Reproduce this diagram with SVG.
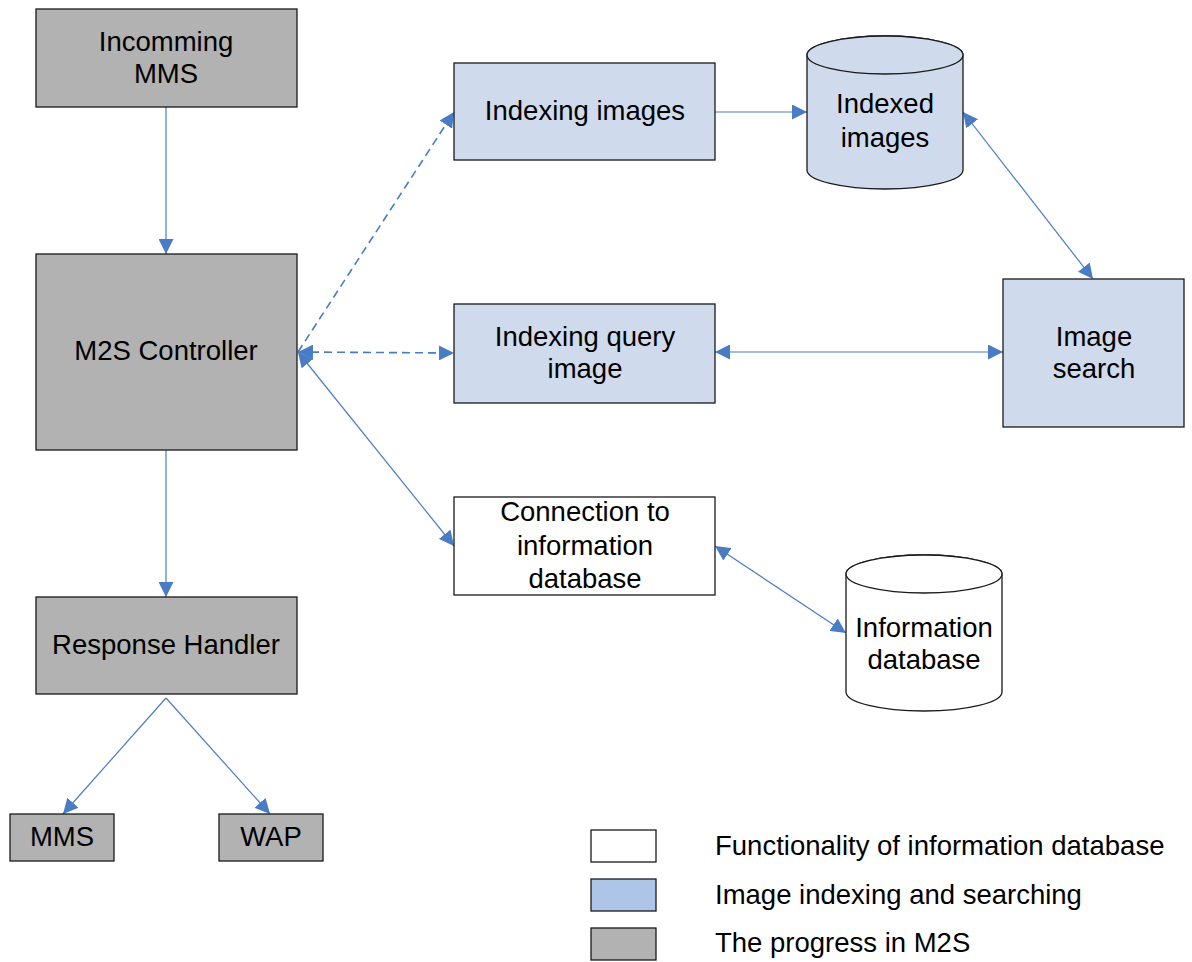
<svg xmlns="http://www.w3.org/2000/svg" width="1192" height="962" viewBox="0 0 1192 962">
<defs>
<style>
.g{fill:#b2b2b2;stroke:#1a1a1a;stroke-width:1.3}
.b{fill:#cfdbed;stroke:#1a1a1a;stroke-width:1.3}
.w{fill:#ffffff;stroke:#1a1a1a;stroke-width:1.3}
.lb{fill:#adc5e6;stroke:#1a1a1a;stroke-width:1.3}
text{font-family:"Liberation Sans",Arial,sans-serif;font-size:27.5px;fill:#000;text-anchor:middle}
.lt{text-anchor:start}
.c{stroke:#4a7cc6;stroke-width:1.2;fill:none}
.d{stroke-dasharray:8,5;stroke-width:1.6}
</style>
<marker id="a" viewBox="0 0 10 10" refX="10" refY="5" markerWidth="15" markerHeight="15" markerUnits="userSpaceOnUse" orient="auto-start-reverse">
<path d="M0,0 L10,5 L0,10 z" fill="#4a7cc6"/>
</marker>
</defs>
<g id="connectors">
<line class="c" x1="166" y1="107" x2="166" y2="254" marker-end="url(#a)"/>
<line class="c" x1="166" y1="450" x2="166" y2="597" marker-end="url(#a)"/>
<line class="c" x1="166" y1="698" x2="63" y2="814" marker-end="url(#a)"/>
<line class="c" x1="166" y1="698" x2="270" y2="814" marker-end="url(#a)"/>
<line class="c d" x1="298" y1="352" x2="454" y2="112" marker-end="url(#a)"/>
<line class="c d" x1="298" y1="352" x2="454" y2="353" marker-start="url(#a)" marker-end="url(#a)"/>
<line class="c" x1="298" y1="352" x2="454" y2="546" marker-start="url(#a)" marker-end="url(#a)"/>
<line class="c" x1="715" y1="112" x2="807" y2="112" marker-end="url(#a)"/>
<line class="c" x1="963" y1="112" x2="1093" y2="279" marker-start="url(#a)" marker-end="url(#a)"/>
<line class="c" x1="715" y1="352" x2="1003" y2="352" marker-start="url(#a)" marker-end="url(#a)"/>
<line class="c" x1="715" y1="546" x2="846" y2="633" marker-start="url(#a)" marker-end="url(#a)"/>
</g>
<g id="incoming-mms">
<rect class="g" x="36" y="9" width="261" height="98"/>
<text x="166" y="51">Incomming</text>
<text x="166" y="83">MMS</text>
</g>
<g id="m2s-controller">
<rect class="g" x="36" y="254" width="261" height="196"/>
<text x="166" y="360">M2S Controller</text>
</g>
<g id="response-handler">
<rect class="g" x="36" y="597" width="261" height="97"/>
<text x="166" y="654">Response Handler</text>
</g>
<g id="mms">
<rect class="g" x="10" y="814" width="104" height="47"/>
<text x="62" y="846">MMS</text>
</g>
<g id="wap">
<rect class="g" x="219" y="814" width="104" height="47"/>
<text x="271" y="846">WAP</text>
</g>
<g id="indexing-images">
<rect class="b" x="454" y="63" width="261" height="97"/>
<text x="585" y="120">Indexing images</text>
</g>
<g id="indexed-images">
<path class="b" d="M807,55 L807,170 A78,19 0 0 0 963,170 L963,55 A78,19 0 0 0 807,55 Z"/>
<ellipse class="b" cx="885" cy="55" rx="78" ry="19"/>
<text x="885" y="113">Indexed</text>
<text x="885" y="147">images</text>
</g>
<g id="indexing-query-image">
<rect class="b" x="454" y="304" width="261" height="99"/>
<text x="585" y="346">Indexing query</text>
<text x="585" y="378">image</text>
</g>
<g id="image-search">
<rect class="b" x="1003" y="279" width="181" height="148"/>
<text x="1094" y="346">Image</text>
<text x="1094" y="378">search</text>
</g>
<g id="connection-db">
<rect class="w" x="454" y="497" width="261" height="98"/>
<text x="585" y="521">Connection to</text>
<text x="585" y="555">information</text>
<text x="585" y="588">database</text>
</g>
<g id="information-database">
<path class="w" d="M846,574 L846,692 A78,19 0 0 0 1002,692 L1002,574 A78,19 0 0 0 846,574 Z"/>
<ellipse class="w" cx="924" cy="574" rx="78" ry="19"/>
<text x="924" y="637">Information</text>
<text x="924" y="669">database</text>
</g>
<g id="legend">
<rect class="w" x="591" y="830" width="65" height="32"/>
<text class="lt" x="715" y="855">Functionality of information database</text>
<rect class="lb" x="591" y="879" width="65" height="32"/>
<text class="lt" x="715" y="904">Image indexing and searching</text>
<rect class="g" x="591" y="928" width="65" height="32"/>
<text class="lt" x="715" y="952">The progress in M2S</text>
</g>
</svg>
